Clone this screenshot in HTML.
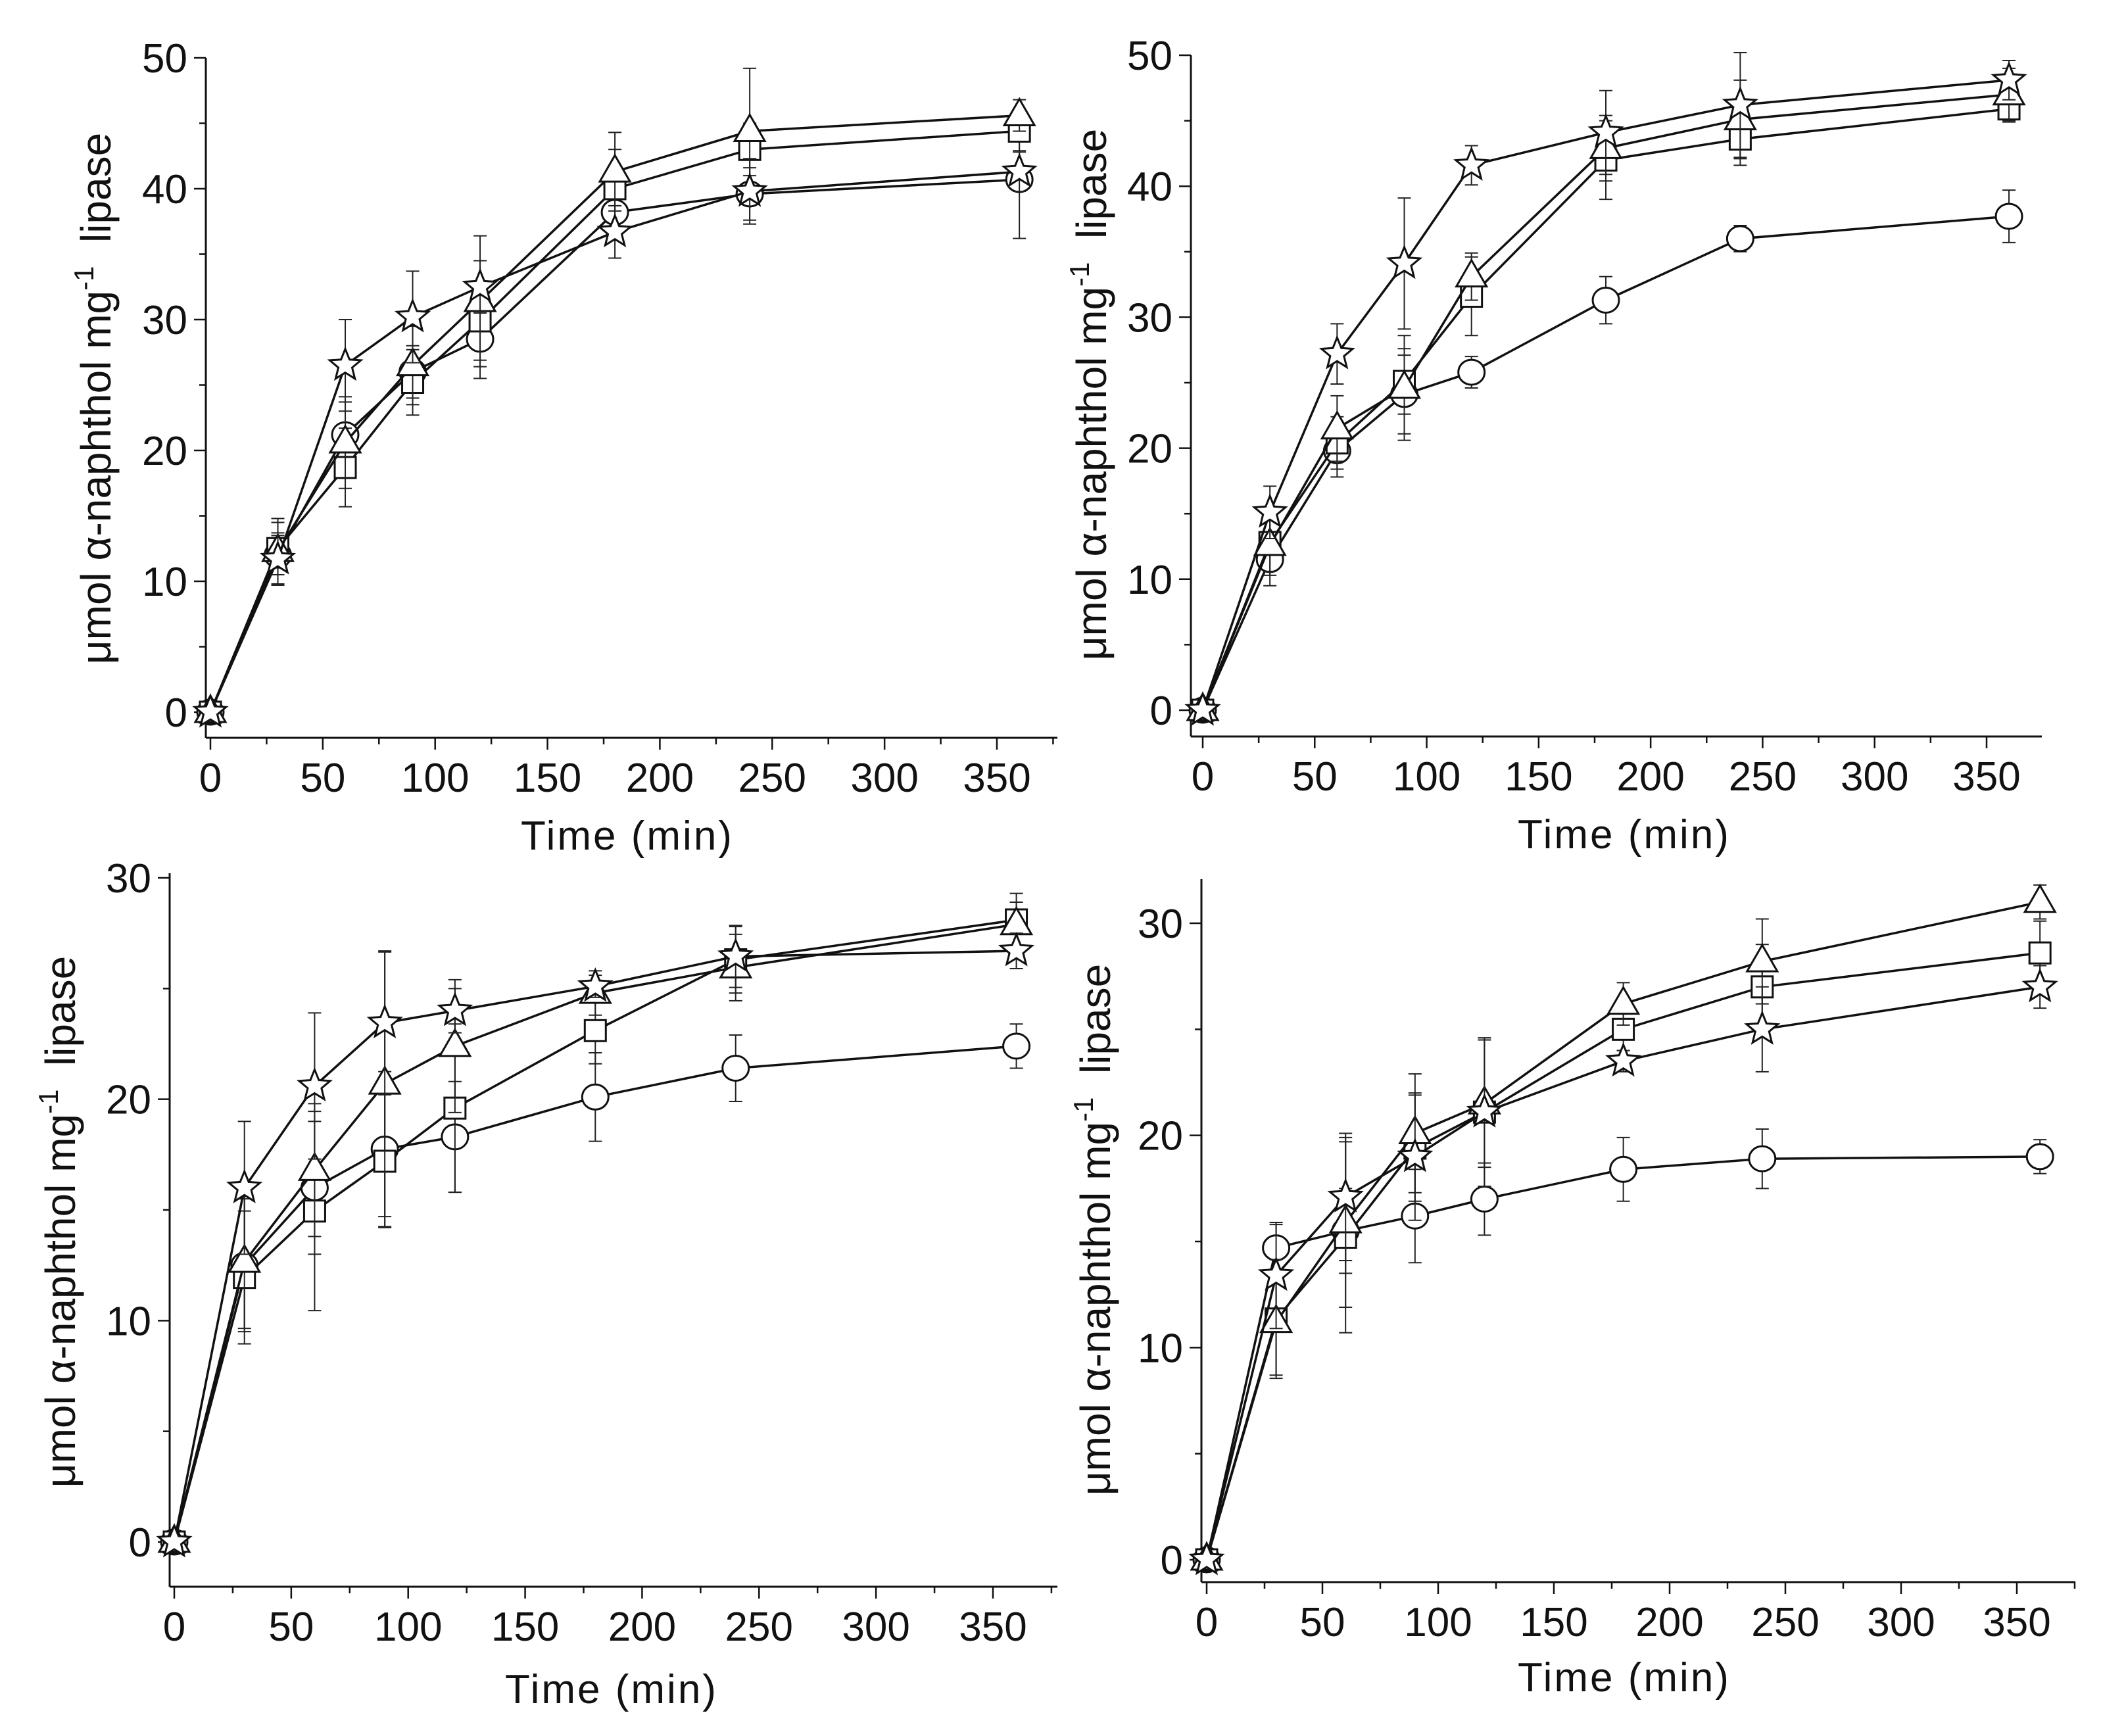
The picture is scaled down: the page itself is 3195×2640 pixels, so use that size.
<!DOCTYPE html>
<html><head><meta charset="utf-8"><style>
html,body{margin:0;padding:0;background:#fff}
svg{display:block}
text{font-family:"Liberation Sans",sans-serif;fill:#111}
</style></head><body>
<svg id="chart" width="3195" height="2640" viewBox="0 0 3195 2640" xmlns="http://www.w3.org/2000/svg"></svg>
<script>
// ---- data ----
const times = [0, 30, 60, 90, 120, 180, 240, 360];
const xTickLabels = [0, 50, 100, 150, 200, 250, 300, 350];
const yTicksA = [0, 10, 20, 30, 40, 50];
const yTicksB = [0, 10, 20, 30];

const p1Circle   = [0, 12.0, 21.2, 26.0, 28.5, 38.2, 39.6, 40.7];
const p1Square   = [0, 12.5, 18.7, 25.2, 29.9, 40.0, 43.0, 44.4];
const p1Triangle = [0, 12.3, 20.6, 26.5, 31.4, 41.3, 44.4, 45.6];
const p1Star     = [0, 11.7, 26.5, 30.2, 32.5, 36.7, 39.8, 41.3];
const p1CircleErr   = [0, 1.5, 2.5, 2, 3, 2, 2, 4.5];
const p1SquareErr   = [0, 2, 3, 2.5, 3, 3, 2, 1.5];
const p1TriangleErr = [0, 2.5, 3.5, 3, 5, 3, 4.8, 1.2];
const p1StarErr     = [0, 2, 3.5, 3.5, 2, 2, 2.5, 1.5];

const p2Circle   = [0, 11.5, 19.8, 24.1, 25.8, 31.3, 36.0, 37.7];
const p2Square   = [0, 12.8, 20.4, 25.1, 31.6, 42.0, 43.6, 45.9];
const p2Triangle = [0, 12.6, 21.5, 24.6, 33.1, 42.9, 45.1, 47.0];
const p2Star     = [0, 15.1, 27.2, 34.1, 41.6, 44.1, 46.2, 48.1];
const p2CircleErr   = [0, 2, 2, 3, 1.2, 1.8, 1, 2];
const p2SquareErr   = [0, 2.5, 2, 2.5, 3, 3, 2, 1];
const p2TriangleErr = [0, 2, 2.5, 4, 1.8, 2.5, 3, 2];
const p2StarErr     = [0, 2, 2.3, 5, 1.5, 3.2, 4, 1.5];

const p3Circle   = [0, 12.5, 16.0, 17.75, 18.3, 20.1, 21.4, 22.4];
const p3Square   = [0, 11.95, 14.95, 17.2, 19.6, 23.1, 26.3, 28.1];
const p3Triangle = [0, 12.65, 16.8, 20.7, 22.4, 24.8, 25.95, 27.9];
const p3Star     = [0, 16.0, 20.6, 23.45, 24.0, 25.1, 26.45, 26.7];
const p3CircleErr   = [0, 3, 3, 3.5, 2.5, 2, 1.5, 1];
const p3SquareErr   = [0, 3, 4.5, 3, 3.8, 1.5, 1.5, 1.2];
const p3TriangleErr = [0, 3, 3, 6, 3, 1, 1.5, 1];
const p3StarErr     = [0, 3, 3.3, 3.2, 1, 0.5, 1.4, 0.8];

const p4Circle   = [0, 14.7, 15.5, 16.2, 17.0, 18.4, 18.9, 19.0];
const p4Square   = [0, 11.35, 15.2, 19.4, 21.1, 25.0, 27.0, 28.6];
const p4Triangle = [0, 11.2, 15.9, 20.1, 21.5, 26.2, 28.2, 31.0];
const p4Star     = [0, 13.4, 17.1, 19.0, 21.1, 23.5, 25.0, 27.0];
const p4CircleErr   = [0, 1.1, 2, 2.2, 1.7, 1.5, 1.4, 0.8];
const p4SquareErr   = [0, 2.8, 4.5, 2.5, 3.5, 1, 2, 1.5];
const p4TriangleErr = [0, 2.5, 4, 2.8, 3, 1, 2, 0.8];
const p4StarErr     = [0, 2.5, 3, 3, 3.5, 0.5, 2, 1];

// ---- rendering ----
const NS = "http://www.w3.org/2000/svg";
const svg = document.getElementById("chart");
function mk(tag, attrs, parent) {
  const e = document.createElementNS(NS, tag);
  for (const k in attrs) e.setAttribute(k, attrs[k]);
  (parent || svg).appendChild(e);
  return e;
}

const panels = [
  {id:"p1", x0px:320, x350px:1516, left:313, right:1608, y0px:1083, ytopVal:50, ytopPx:88, bottom:1122, top:88,
   yTicks:yTicksA, yMinor:5, ymaxTick:50, titleX:954, titleY:1292, ytX:168, ytCY:606,
   series:[[p1Circle,p1CircleErr,"circle"],[p1Square,p1SquareErr,"square"],[p1Triangle,p1TriangleErr,"triangle"],[p1Star,p1StarErr,"star"]]},
  {id:"p2", x0px:1829, x350px:3021, left:1811, right:3105, y0px:1080, ytopVal:50, ytopPx:84, bottom:1120, top:84,
   yTicks:yTicksA, yMinor:5, ymaxTick:50, titleX:2470, titleY:1290, ytX:1682, ytCY:600,
   series:[[p2Circle,p2CircleErr,"circle"],[p2Square,p2SquareErr,"square"],[p2Triangle,p2TriangleErr,"triangle"],[p2Star,p2StarErr,"star"]]},
  {id:"p3", x0px:265, x350px:1510, left:258, right:1608, y0px:2345, ytopVal:30, ytopPx:1335, bottom:2413, top:1328,
   yTicks:yTicksB, yMinor:5, ymaxTick:30, titleX:930, titleY:2590, ytX:114, ytCY:1858,
   series:[[p3Circle,p3CircleErr,"circle"],[p3Square,p3SquareErr,"square"],[p3Triangle,p3TriangleErr,"triangle"],[p3Star,p3StarErr,"star"]]},
  {id:"p4", x0px:1835, x350px:3067, left:1827, right:3156, y0px:2372, ytopVal:30, ytopPx:1404, bottom:2406, top:1337,
   yTicks:yTicksB, yMinor:5, ymaxTick:30, titleX:2470, titleY:2572, ytX:1688, ytCY:1870,
   series:[[p4Circle,p4CircleErr,"circle"],[p4Square,p4SquareErr,"square"],[p4Triangle,p4TriangleErr,"triangle"],[p4Star,p4StarErr,"star"]]}
];

function starPts(cx, cy, R, r) {
  const pts = [];
  for (let i = 0; i < 10; i++) {
    const a = -Math.PI/2 + i*Math.PI/5;
    const rad = i % 2 === 0 ? R : r;
    pts.push((cx + rad*Math.cos(a)).toFixed(1) + "," + (cy + rad*Math.sin(a)).toFixed(1));
  }
  return pts.join(" ");
}

function marker(g, shape, cx, cy) {
  const st = {fill:"#fff", stroke:"#111", "stroke-width":3};
  let e;
  if (shape === "circle") e = mk("ellipse", Object.assign({cx:cx, cy:cy, rx:20, ry:19}, st), g);
  else if (shape === "square") e = mk("rect", Object.assign({x:cx-16, y:cy-16, width:32, height:32}, st), g);
  else if (shape === "triangle") e = mk("polygon", Object.assign({points:`${cx},${cy-25} ${cx+23},${cy+15} ${cx-23},${cy+15}`}, st), g);
  else e = mk("polygon", Object.assign({points:starPts(cx, cy, 25, 11)}, st), g);
  
  
}

panels.forEach(p => {
  const g = mk("g", {});
  
  
  const sx = v => p.x0px + v * (p.x350px - p.x0px) / 350;
  const sy = v => p.y0px - v * (p.y0px - p.ytopPx) / p.ytopVal;

  const xa = mk("line", {x1:p.left, y1:p.bottom, x2:p.right, y2:p.bottom, stroke:"#111", "stroke-width":3}, g);
  
  
  const ya = mk("line", {x1:p.left, y1:p.top, x2:p.left, y2:p.bottom, stroke:"#111", "stroke-width":3}, g);
  
  

  for (let v = 0; v <= 375; v += 25) {
    const major = v % 50 === 0;
    const x = sx(v);
    if (x > p.right) break;
    mk("line", {x1:x, y1:p.bottom, x2:x, y2:p.bottom + (major ? 18 : 10), stroke:"#111", "stroke-width":2.5}, g);
  }
  xTickLabels.forEach(v => {
    const t = mk("text", {x:sx(v), y:p.bottom + 82, "font-size":62, "text-anchor":"middle"}, g);
    t.textContent = v;
    
    
  });
  for (let v = 0; v <= p.ymaxTick; v += p.yMinor) {
    const major = v % 10 === 0;
    const y = sy(v);
    mk("line", {x1:p.left, y1:y, x2:p.left - (major ? 18 : 10), y2:y, stroke:"#111", "stroke-width":2.5}, g);
  }
  p.yTicks.forEach(v => {
    const t = mk("text", {x:p.left - 28, y:sy(v) + 22, "font-size":62, "text-anchor":"end"}, g);
    t.textContent = v;
    
    
  });
  const xt = mk("text", {x:p.titleX, y:p.titleY, "font-size":62, "text-anchor":"middle", "letter-spacing":3}, g);
  xt.textContent = "Time (min)";
  
  
  const yt = mk("text", {x:0, y:0, "font-size":64, "text-anchor":"middle", transform:`translate(${p.ytX},${p.ytCY}) rotate(-90)`}, g);
  
  
  const s1 = mk("tspan", {}, yt); s1.textContent = "\u03bcmol \u03b1-naphthol mg";
  const s2 = mk("tspan", {dy:-26, "font-size":42}, yt); s2.textContent = "-1";
  const s3 = mk("tspan", {dy:26}, yt); s3.textContent = "\u00a0 lipase";

  p.series.forEach(([vals, errs, shape]) => {
    const sg = mk("g", {}, g);
    
    
    vals.forEach((v, i) => {
      if (!errs[i]) return;
      const x = sx(times[i]);
      const y1 = sy(v - errs[i]), y2 = sy(v + errs[i]);
      mk("line", {x1:x, y1:y1, x2:x, y2:y2, stroke:"#222", "stroke-width":2}, sg);
      mk("line", {x1:x-10, y1:y1, x2:x+10, y2:y1, stroke:"#222", "stroke-width":2}, sg);
      mk("line", {x1:x-10, y1:y2, x2:x+10, y2:y2, stroke:"#222", "stroke-width":2}, sg);
    });
    const d = vals.map((v, i) => (i ? "L" : "M") + sx(times[i]).toFixed(1) + "," + sy(v).toFixed(1)).join(" ");
    const path = mk("path", {d:d, fill:"none", stroke:"#111", "stroke-width":3.5}, sg);
    
    
    vals.forEach((v, i) => marker(sg, shape, sx(times[i]), sy(v)));
  });
});
</script>
</body></html>
